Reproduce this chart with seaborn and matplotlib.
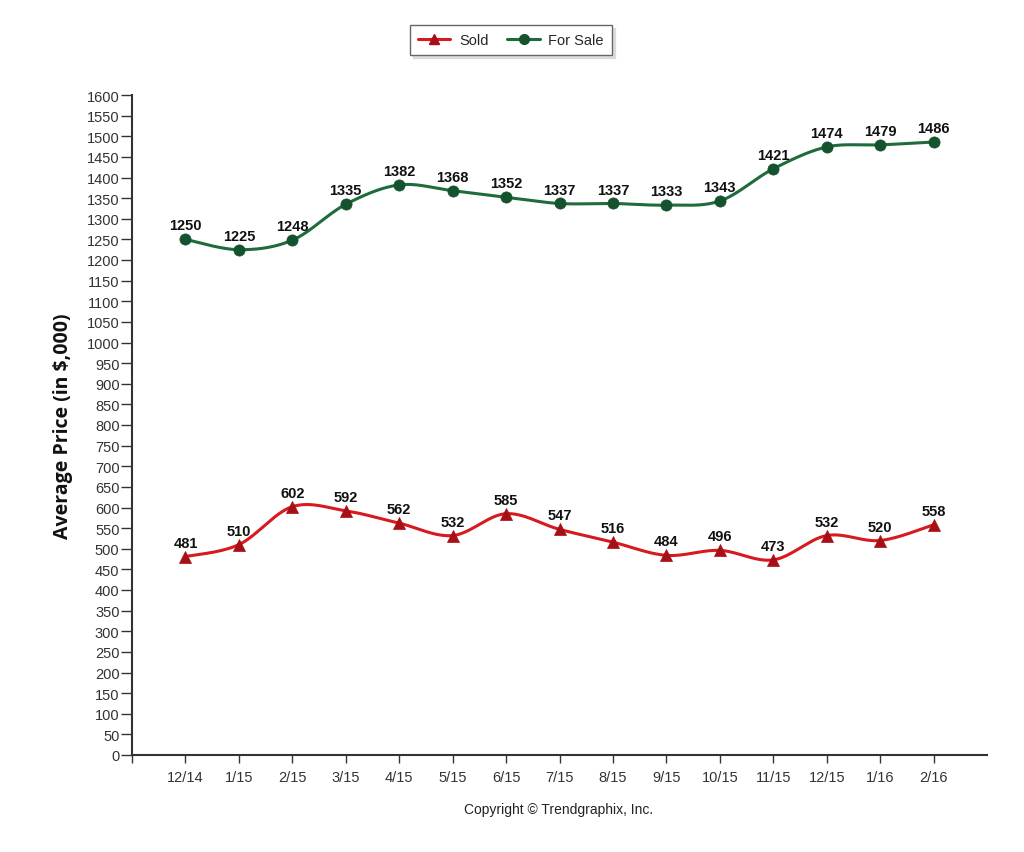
import numpy as np
import pandas as pd
import matplotlib
matplotlib.use("Agg")
import matplotlib.pyplot as plt
import seaborn as sns
from matplotlib.lines import Line2D

months = ["12/14", "1/15", "2/15", "3/15", "4/15", "5/15", "6/15", "7/15",
          "8/15", "9/15", "10/15", "11/15", "12/15", "1/16", "2/16"]
sold = [481, 510, 602, 592, 562, 532, 585, 547, 516, 484, 496, 473, 532, 520, 558]
for_sale = [1250, 1225, 1248, 1335, 1382, 1368, 1352, 1337, 1337, 1333, 1343, 1421, 1474, 1479, 1486]

sns.set_theme(style="white")
plt.rcParams['font.family'] = ['Liberation Sans', 'DejaVu Sans']

RED = "#D71920"
RED_M = "#A50F15"
GREEN = "#1E6B3C"
GREEN_M = "#15532E"

def smooth(xs, ys, n=30, t=0.5):
    xs = np.asarray(xs, float); ys = np.asarray(ys, float)
    px = np.concatenate([[xs[0]], xs, [xs[-1]]])
    py = np.concatenate([[ys[0]], ys, [ys[-1]]])
    ox, oy = [], []
    for i in range(1, len(px) - 2):
        p0, p1, p2, p3 = (px[i-1], py[i-1]), (px[i], py[i]), (px[i+1], py[i+1]), (px[i+2], py[i+2])
        m1 = ((p2[0]-p0[0])*t, (p2[1]-p0[1])*t)
        m2 = ((p3[0]-p1[0])*t, (p3[1]-p1[1])*t)
        s = np.linspace(0, 1, n, endpoint=False)
        h00 = 2*s**3 - 3*s**2 + 1; h10 = s**3 - 2*s**2 + s
        h01 = -2*s**3 + 3*s**2; h11 = s**3 - s**2
        ox.extend(h00*p1[0] + h10*m1[0] + h01*p2[0] + h11*m2[0])
        oy.extend(h00*p1[1] + h10*m1[1] + h01*p2[1] + h11*m2[1])
    ox.append(xs[-1]); oy.append(ys[-1])
    return np.array(ox), np.array(oy)

fig = plt.figure(figsize=(10.24, 8.53), dpi=100)
ax = fig.add_axes([132/1024, 1-756/853, (987-132)/1024, (756-96)/853])

x = np.arange(len(months))
df = pd.DataFrame({"x": x, "Sold": sold, "For Sale": for_sale})

for col, lc, mc, mk, ms in [("For Sale", GREEN, GREEN_M, "o", 65), ("Sold", RED, RED_M, "^", 75)]:
    sx, sy = smooth(df["x"], df[col])
    sns.lineplot(x=sx, y=sy, ax=ax, color=lc, linewidth=2.2, sort=False, estimator=None)
    sns.scatterplot(x=df["x"], y=df[col], ax=ax, color=mc, marker=mk, s=ms,
                    edgecolor=mc, linewidth=0.5, zorder=5)
    for xi, yi in zip(df["x"], df[col]):
        ax.annotate(str(yi), (xi, yi), xytext=(0, 5), textcoords="offset points",
                    ha="center", va="bottom", fontsize=10.5, fontweight="bold", color="#111111")

ax.set_xlim(-1, 15)
ax.set_ylim(0, 1600)
ax.set_yticks(np.arange(0, 1601, 50))
ax.set_xticks(list(x))
ax.set_xticklabels(months)
ax.xaxis.set_minor_locator(matplotlib.ticker.FixedLocator([-1]))
ax.tick_params(axis="x", which="both", direction="out", length=6, width=1, color="#333333",
               labelsize=10.5, labelcolor="#333333", pad=5, bottom=True)
ax.tick_params(axis="y", direction="out", length=8, width=1, color="#333333",
               labelsize=10.5, labelcolor="#333333", pad=1, left=True)
for s in ["top", "right"]:
    ax.spines[s].set_visible(False)
for s in ["left", "bottom"]:
    ax.spines[s].set_color("#333333")
    ax.spines[s].set_linewidth(1.5)
ax.set_xlabel("")
ax.set_ylabel("Average Price (in $,000)", fontsize=14, fontweight="bold",
              family=["Open Sans", "DejaVu Sans"], color="#111111", labelpad=10)

handles = [Line2D([0], [0], color=RED, lw=2.2, marker="^", markersize=7,
                  markerfacecolor=RED_M, markeredgecolor=RED_M),
           Line2D([0], [0], color=GREEN, lw=2.2, marker="o", markersize=7,
                  markerfacecolor=GREEN_M, markeredgecolor=GREEN_M)]
leg = fig.legend(handles, ["Sold", "For Sale"], loc="center", bbox_to_anchor=(511/1024, 1-41/853),
                 ncol=2, frameon=True, fancybox=False, shadow={"color": "#cccccc", "alpha": 0.6},
                 fontsize=10.5, handlelength=2.2, columnspacing=1.3, borderpad=0.55, handletextpad=0.6)
leg.get_frame().set_edgecolor("#666666")
leg.get_frame().set_linewidth(1)

fig.text(559/1024, 1-810/853, "Copyright \u00a9 Trendgraphix, Inc.", ha="center", va="center",
         fontsize=10, color="#222222")

fig.savefig("out.png", dpi=100, facecolor="white")
